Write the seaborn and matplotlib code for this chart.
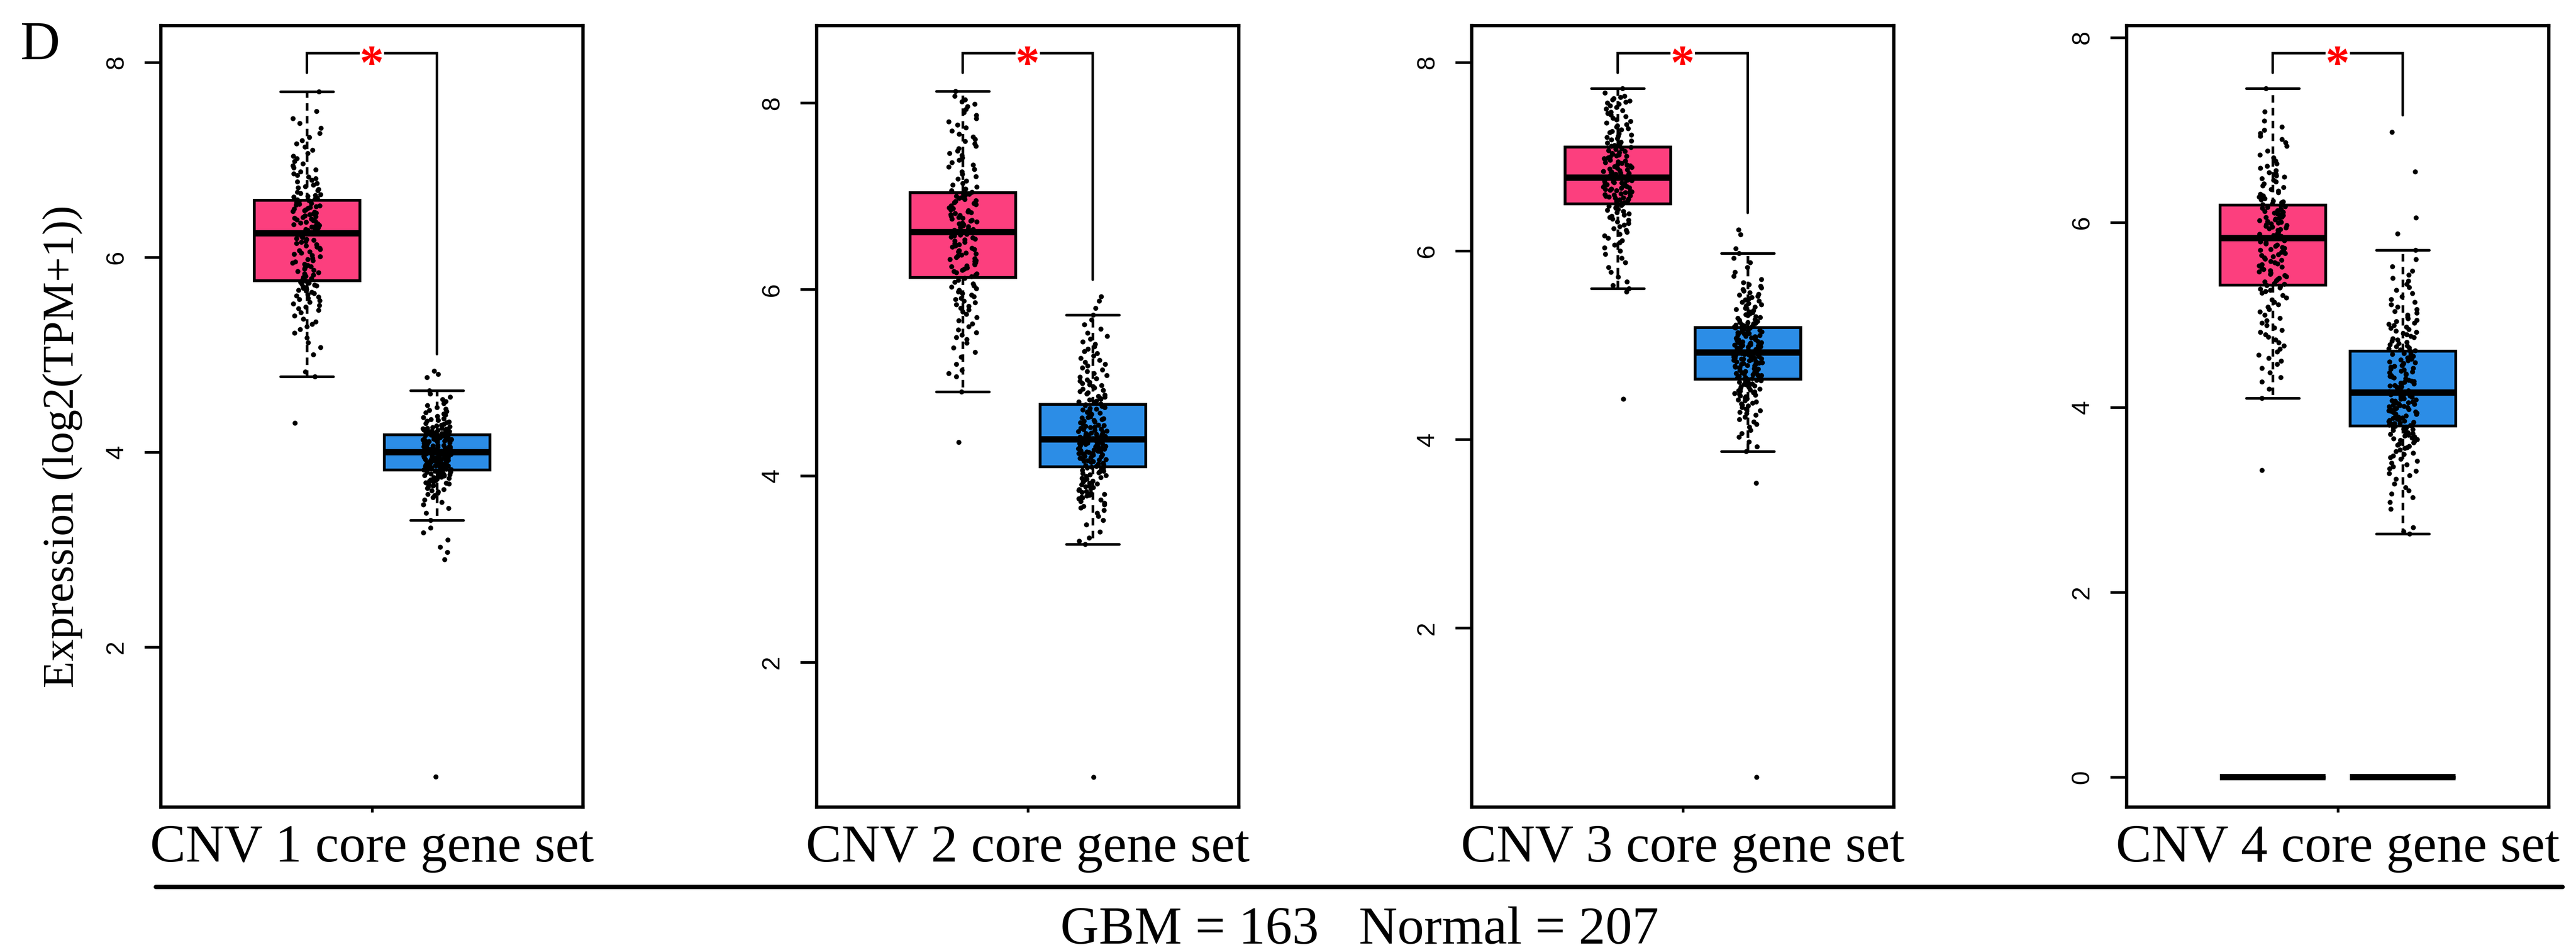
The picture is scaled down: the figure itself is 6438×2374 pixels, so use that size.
import numpy as np
import pandas as pd
import matplotlib
matplotlib.use("Agg")
import matplotlib.pyplot as plt
import matplotlib.transforms as mtransforms
from matplotlib.lines import Line2D
import seaborn as sns

# ---------------- data ----------------
set_labels = ["CNV 1 core gene set", "CNV 2 core gene set",
              "CNV 3 core gene set", "CNV 4 core gene set"]
groups = ["GBM", "Normal"]
n_gbm, n_normal = 163, 207
summary_text = "GBM = 163   Normal = 207"
ylabel_text = "Expression (log2(TPM+1))"
panel_letter = "D"

# point counts per 0.1-wide bin (first bin centre given), plus isolated points
BIN = 0.1
gbm1_start = 4.3
gbm1_counts = [1, 0, 0, 0, 0, 2, 0, 1, 2, 2, 4, 3, 6, 8, 11, 8, 8, 8, 8, 10,
               12, 12, 12, 11, 7, 6, 5, 4, 3, 3, 2, 2, 1, 0, 1]
gbm1_extra = []
normal1_start = 2.9
normal1_counts = [1, 2, 1, 2, 1, 2, 4, 8, 14, 23, 30, 29, 28, 30, 12, 8, 5, 3, 0, 3]
normal1_extra = [0.67]

gbm2_start = 4.9
gbm2_counts = [1, 0, 3, 1, 2, 2, 4, 3, 3, 5, 6, 6, 5, 8, 9, 8, 8, 10, 10, 10,
               9, 9, 5, 4, 4, 4, 4, 4, 3, 3, 3, 4, 2]
gbm2_extra = [4.36]
normal2_start = 3.3
normal2_counts = [3, 1, 2, 3, 6, 10, 10, 10, 12, 17, 20, 21, 14, 12, 11, 10, 8, 8,
                  5, 5, 4, 4, 3, 2, 2, 1, 2]
normal2_extra = [0.77]

gbm3_start = 5.6
gbm3_counts = [3, 2, 2, 2, 3, 4, 5, 6, 8, 10, 15, 16, 16, 12, 12, 9, 8, 7, 6, 6, 8, 2]
gbm3_extra = [4.43]
normal3_start = 3.9
normal3_counts = [2, 2, 3, 4, 6, 9, 12, 13, 16, 17, 25, 20, 18, 15, 10, 8, 8, 6, 3,
                  2, 2, 2, 0, 2]
normal3_extra = [0.42, 3.54]

gbm4_start = 4.1
gbm4_counts = [1, 1, 2, 2, 3, 3, 3, 4, 4, 3, 4, 4, 8, 7, 8, 8, 9, 8, 11, 12, 12, 10,
               6, 5, 6, 4, 3, 2, 3, 3, 1, 1]
gbm4_extra = [3.32, 7.45]
normal4_start = 2.7
normal4_counts = [1, 0, 1, 2, 3, 2, 4, 5, 6, 8, 11, 14, 14, 15, 14, 15, 12, 10, 10,
                  10, 8, 7, 7, 5, 4, 3, 3, 3, 2, 1, 1]
normal4_extra = [2.63, 2.66, 5.88, 6.05, 6.55, 6.98]

# the flat line drawn at 0 in the CNV 4 panel (collapsed boxes)
cnv4_zero_values = [0.0, 0.0, 0.0]

y_ticks = [[2, 4, 6, 8], [2, 4, 6, 8], [2, 4, 6, 8], [0, 2, 4, 6, 8]]
y_limits = [(0.357, 8.378), (0.446, 8.83), (0.10, 8.39), (-0.325, 8.13)]


def expand(start, counts, extra):
    vals = list(extra)
    for k, n in enumerate(counts):
        c = start + k * BIN
        for j in range(n):
            vals.append(c - BIN / 2 + (j + 0.5) / n * BIN)
    return np.sort(np.array(vals))


panels = [
    (expand(gbm1_start, gbm1_counts, gbm1_extra), expand(normal1_start, normal1_counts, normal1_extra)),
    (expand(gbm2_start, gbm2_counts, gbm2_extra), expand(normal2_start, normal2_counts, normal2_extra)),
    (expand(gbm3_start, gbm3_counts, gbm3_extra), expand(normal3_start, normal3_counts, normal3_extra)),
    (expand(gbm4_start, gbm4_counts, gbm4_extra), expand(normal4_start, normal4_counts, normal4_extra)),
]

# ---------------- style ----------------
sns.set_theme(style="ticks", rc={"axes.edgecolor": "black", "xtick.color": "black",
                                 "ytick.color": "black", "text.color": "black"})
plt.rcParams["font.family"] = ["Liberation Serif", "DejaVu Serif"]
np.random.seed(7)

W, H, DPI = 6438, 2374, 300
fig = plt.figure(figsize=(W / DPI, H / DPI), dpi=DPI)
fig.patch.set_facecolor("white")

palette = {"GBM": "#FC3F7E", "Normal": "#2C8DE6"}
ax_lefts = [402, 2041, 3678, 5315]
ax_w, ax_top, ax_bot = 1055, 64, 2017

box_kws = dict(order=groups, hue_order=groups, palette=palette, width=0.815,
               linecolor="black", linewidth=1.7, showfliers=False, whis=1.5,
               saturation=1, legend=False,
               medianprops={"linewidth": 3.8, "color": "black"},
               whiskerprops={"linestyle": (0, (2.8, 2.0)), "linewidth": 1.6},
               capprops={"linewidth": 1.6})

for i, (gbm_vals, normal_vals) in enumerate(panels):
    ax = fig.add_axes([ax_lefts[i] / W, 1 - ax_bot / H, ax_w / W, (ax_bot - ax_top) / H])
    ax.set_facecolor("white")
    df = pd.DataFrame({
        "group": ["GBM"] * len(gbm_vals) + ["Normal"] * len(normal_vals),
        "value": np.concatenate([gbm_vals, normal_vals]),
    })
    sns.boxplot(data=df, x="group", y="value", hue="group", ax=ax, **box_kws)
    if i == 3:
        zdf = pd.DataFrame({"group": ["GBM"] * len(cnv4_zero_values) + ["Normal"] * len(cnv4_zero_values),
                            "value": cnv4_zero_values * 2})
        sns.boxplot(data=zdf, x="group", y="value", hue="group", ax=ax, **box_kws)
    sns.stripplot(data=df, x="group", y="value", order=groups, color="black",
                  size=3.0, jitter=0.11, linewidth=0, ax=ax, zorder=4)

    ylo, yhi = y_limits[i]
    ax.set_xlim(-1.123, 2.123)
    ax.set_ylim(ylo, yhi)
    ax.set_xlabel("")
    ax.set_ylabel("")
    ax.set_xticks([0.5])
    ax.set_xticklabels([set_labels[i]], fontsize=32, fontfamily="Liberation Serif")
    ax.set_yticks(y_ticks[i])
    ax.set_yticklabels([str(t) for t in y_ticks[i]], fontsize=15,
                       fontfamily="Liberation Sans", rotation=90, va="center")
    ax.tick_params(axis="y", length=9.8, width=1.6, pad=9.8, direction="out")
    ax.tick_params(axis="x", length=3.0, width=1.6, pad=7.3, direction="out")
    for sp in ax.spines.values():
        sp.set_visible(True)
        sp.set_linewidth(2.0)
        sp.set_color("black")

    # significance bracket
    trans = mtransforms.blended_transform_factory(ax.transData, ax.transAxes)
    y_top = 0.9647
    y_left_end = 0.9396
    y_right_end = (np.max(normal_vals) - ylo) / (yhi - ylo) + 0.0215
    ax.plot([0, 0, 1, 1], [y_left_end, y_top, y_top, y_right_end], transform=trans,
            color="black", lw=1.5, clip_on=False, zorder=5, solid_joinstyle="miter")
    ax.text(0.5, 0.9324, "*", transform=trans, ha="center", va="baseline",
            color="#FF0000", fontsize=29, fontweight="bold", zorder=6,
            bbox=dict(facecolor="white", edgecolor="none", pad=0))

# figure-level texts and rule
fig.text(50 / W, 1 - 148 / H, panel_letter, ha="left", va="baseline", fontsize=33)
fig.text(157 / W, 1 - 1116 / H, ylabel_text, rotation=90, ha="center", va="center",
         fontsize=26.5)
fig.add_artist(Line2D([389 / W, 6404 / W], [1 - 2216 / H, 1 - 2216 / H],
                      lw=2.6, color="black"))
fig.text(3398 / W, 1 - 2358 / H, summary_text, ha="center", va="baseline", fontsize=32)

fig.savefig("out.png", dpi=DPI, facecolor="white")
